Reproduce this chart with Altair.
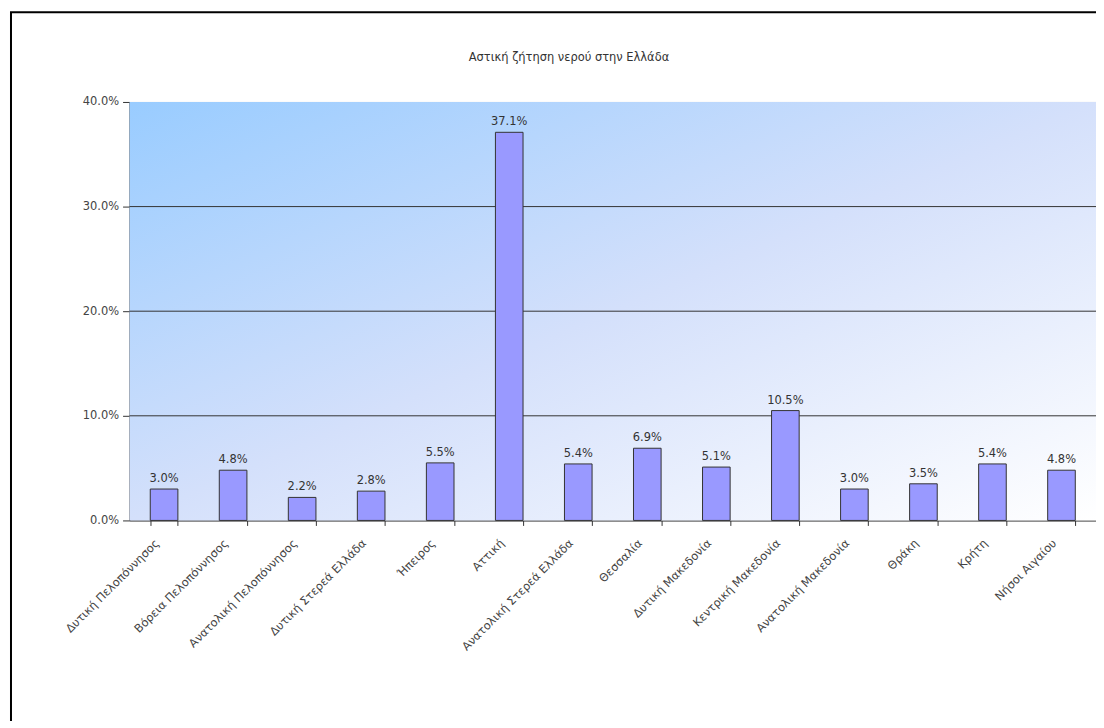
import altair as alt
import pandas as pd

regions = [
    "Δυτική Πελοπόννησος", "Βόρεια Πελοπόννησος", "Ανατολική Πελοπόννησος",
    "Δυτική Στερεά Ελλάδα", "Ήπειρος", "Αττική", "Ανατολική Στερεά Ελλάδα",
    "Θεσσαλία", "Δυτική Μακεδονία", "Κεντρική Μακεδονία", "Ανατολική Μακεδονία",
    "Θράκη", "Κρήτη", "Νήσοι Αιγαίου",
]
shares = [3.0, 4.8, 2.2, 2.8, 5.5, 37.1, 5.4, 6.9, 5.1, 10.5, 3.0, 3.5, 5.4, 4.8]
grid_values = [10, 20, 30]
y_ticks = [0, 10, 20, 30, 40]
chart_title = ["Αστική ζήτηση νερού στην Ελλάδα"]

FONT = "DejaVu Sans"
W, H = 970, 420

df = pd.DataFrame({"region": regions, "share": shares})
grid_df = pd.DataFrame({"v": grid_values})
title_df = pd.DataFrame({"t": chart_title})
one = pd.DataFrame({"a": [0]})

xscale = alt.Scale(domain=regions, paddingInner=0.6, paddingOuter=0.3)
yscale = alt.Scale(domain=[0, 40], nice=False)

y_axis = alt.Axis(
    title=None, values=y_ticks, grid=False,
    labelExpr="format(datum.value, '.1f') + '%'",
    domainColor="#333333", tickColor="#333333", tickSize=7,
    labelFontSize=11.5, labelColor="#444444", labelFont=FONT, labelPadding=4,
)

background = alt.Chart(one).mark_rect(
    fill=alt.Gradient(
        gradient="linear",
        stops=[
            alt.GradientStop(color="#99ccff", offset=0),
            alt.GradientStop(color="#d4e0fb", offset=0.5),
            alt.GradientStop(color="#ffffff", offset=1),
        ],
        x1=0, y1=0, x2=1, y2=1,
    )
).encode(x=alt.value(0), x2=alt.value(W), y=alt.value(0), y2=alt.value(H))

border = alt.Chart(one).mark_rect(
    fillOpacity=0, stroke="#000000", strokeWidth=2
).encode(x=alt.value(-119), x2=alt.value(1200), y=alt.value(-90), y2=alt.value(900))

title_mark = alt.Chart(title_df).mark_text(
    fontSize=11.5, color="#333333", font=FONT, align="center", baseline="middle"
).encode(x=alt.value(441), y=alt.value(-44), text="t:N")

grid = alt.Chart(grid_df).mark_rule(color="#333333", strokeWidth=1).encode(
    y=alt.Y("v:Q", scale=yscale, axis=y_axis)
)

bars = alt.Chart(df).mark_bar(
    color="#9999ff", stroke="#333333", strokeWidth=1
).encode(
    x=alt.X(
        "region:N", sort=regions, scale=xscale,
        axis=alt.Axis(
            title=None, labelAngle=-45, labelAlign="right", labelBaseline="middle",
            tickBand="extent", tickSize=5, tickColor="#333333", domainColor="#333333",
            labelFontSize=11.5, labelColor="#444444", labelFont=FONT, labelPadding=16,
            labelOffset=-7, labelLimit=0, grid=False,
        ),
    ),
    y=alt.Y("share:Q", scale=yscale, axis=y_axis),
)

labels = alt.Chart(df).transform_calculate(
    lbl="format(datum.share, '.1f') + '%'"
).mark_text(
    dy=-10, fontSize=11.5, color="#333333", font=FONT
).encode(
    x=alt.X("region:N", sort=regions, scale=xscale),
    y=alt.Y("share:Q", scale=yscale),
    text="lbl:N",
)

chart = alt.layer(background, border, title_mark, grid, bars, labels).properties(
    width=W, height=H,
    padding={"left": 122, "top": 93, "right": 0, "bottom": 200},
    autosize=alt.AutoSizeParams(type="none"),
).configure_view(stroke="#999999")

chart.save("out.html", embed_options={"renderer": "svg", "actions": False})
